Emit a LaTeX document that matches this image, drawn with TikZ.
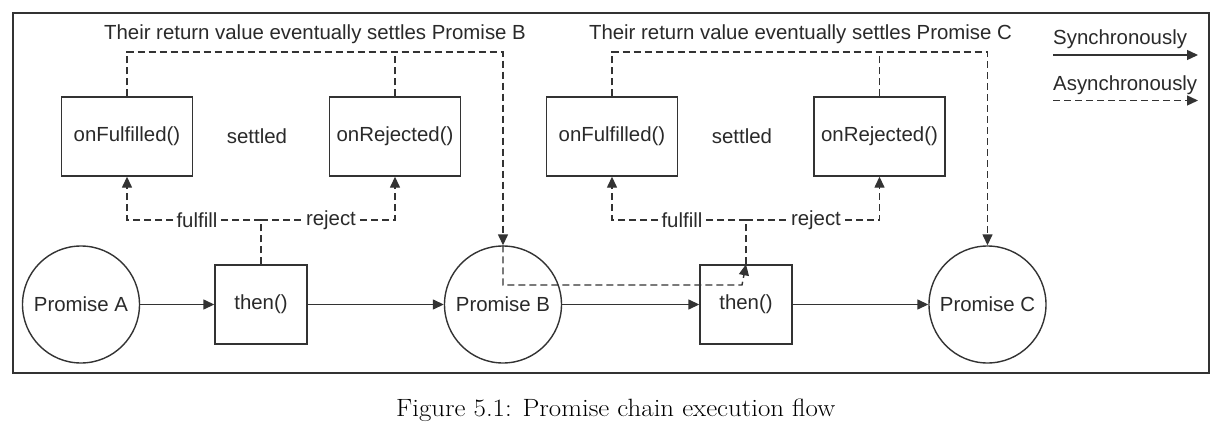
\documentclass[tikz,border=0pt]{standalone}
\usepackage{fontspec}
\newfontfamily\sansf{Liberation Sans}
\usetikzlibrary{arrows.meta,calc}
\definecolor{ln}{HTML}{333333}
\definecolor{txt}{HTML}{2A2A2A}
\begin{document}
\begin{tikzpicture}[x=1pt,y=-1pt,
  every node/.style={font=\sansf\fontsize{20.4}{24}\selectfont, text=txt},
  box/.style={draw=ln, line width=1.4pt, minimum width=131pt, minimum height=79pt, inner sep=0pt},
  thenbox/.style={draw=ln, line width=1.4pt, minimum width=92pt, minimum height=79pt, inner sep=0pt},
  prom/.style={draw=ln, line width=1.4pt, circle, minimum size=117pt, inner sep=0pt},
  plain/.style={inner sep=0pt},
  lbl/.style={fill=white, inner sep=3pt},
  tip/.style={-{Triangle[length=11pt,width=10pt]}},
  sync/.style={draw=ln, line width=1.4pt, tip},
  async/.style={draw=ln, line width=1.4pt, dash pattern=on 7pt off 4pt},
  frame/.style={draw=ln, line width=2pt}
]
\fill[white] (0,0) rectangle (1232,436);
\useasboundingbox (0,0) rectangle (1232,436);
\draw[frame] (13,13.3) rectangle (1208.5,372.7);

% titles
\node[plain, anchor=base] (title1) at (315,39.5) {Their return value eventually settles Promise B};
\node[plain, anchor=base] (title2) at (800.5,39.5) {Their return value eventually settles Promise C};

% legend
\node[plain, anchor=base west] (legS) at (1053,45) {Synchronously};
\node[plain, anchor=base west] (legA) at (1053,90.7) {Asynchronously};
\coordinate (s1) at (1053,55);
\coordinate (s2) at (1198,55);
\coordinate (a1) at (1053,100.5);
\coordinate (a2) at (1198,100.5);
\draw[sync] (s1) -- (s2);
\draw[async, tip] (a1) -- (a2);

% group 1
\node[box] (onF1) at (127,136.5) {onFulfilled()};
\node[plain] (set1) at (257,136.5) {settled};
\node[box] (onR1) at (395,136.5) {onRejected()};
\node[prom] (PromA) at (81,304.5) {Promise A};
\node[thenbox] (then1) at (261,304.5) {then()};
\node[prom] (PromB) at (503,304.5) {Promise B};

% group 2
\node[box] (onF2) at (612,136.5) {onFulfilled()};
\node[plain] (set2) at (742,136.5) {settled};
\node[box] (onR2) at (879.5,136.5) {onRejected()};
\node[thenbox] (then2) at (746,304.5) {then()};
\node[prom] (PromC) at (987.5,304.5) {Promise C};

% synchronous chain
\draw[sync] (PromA) -- (then1);
\draw[sync] (then1) -- (PromB);
\draw[sync] (PromB) -- (then2);
\draw[sync] (then2) -- (PromC);

% asynchronous: group 1
\coordinate (top1) at (503,52);
\coordinate (fr1) at (261,220);
\draw[async, tip] (onF1.north) |- (top1) -- (PromB.north);
\draw[async] (onR1.north) -- (onR1.north |- top1);
\draw[async] (then1.north) -- (fr1);
\draw[async, tip] (fr1) -| node[lbl, pos=0.239] (ful1) {fulfill} (onF1.south);
\draw[async, tip] (fr1) -| node[lbl, pos=0.261] (rej1) {reject} (onR1.south);

% promise B triggers then() 2
\coordinate (pb1) at (503,285);
\coordinate (pb2) at (742,285);
\draw[async, tip] (PromB.north) -- (pb1) -- (pb2) -- (then2.north);

% asynchronous: group 2
\coordinate (top2) at (987.5,52);
\coordinate (fr2) at (746,220);
\draw[async, tip] (onF2.north) |- (top2) -- (PromC.north);
\draw[async] (onR2.north) -- (onR2.north |- top2);
\draw[async] (then2.north) -- (fr2);
\draw[async, tip] (fr2) -| node[lbl, pos=0.239] (ful2) {fulfill} (onF2.south);
\draw[async, tip] (fr2) -| node[lbl, pos=0.262] (rej2) {reject} (onR2.south);

% caption
\node[plain, anchor=base, font=\fontsize{25}{30}\selectfont, text=black] (cap) at (615.7,416.7) {\scalebox{1.075}[1]{Figure 5.1: Promise chain execution flow}};
\end{tikzpicture}
\end{document}
